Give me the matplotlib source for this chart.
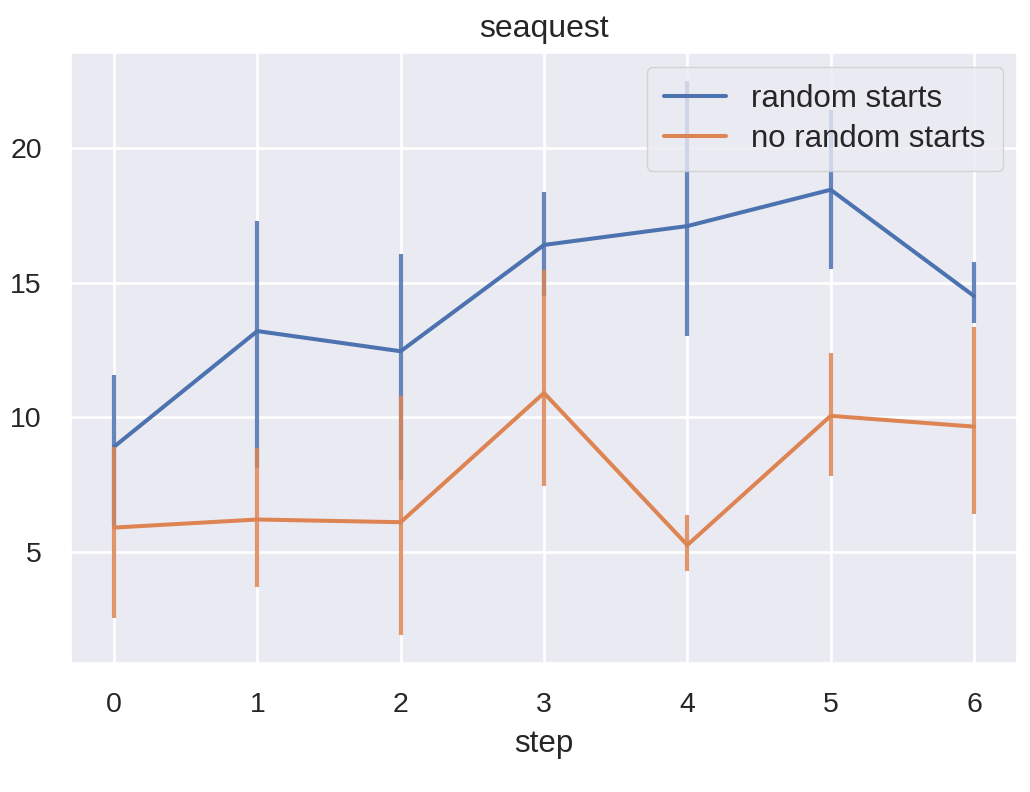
import matplotlib
matplotlib.use("Agg")
import matplotlib.pyplot as plt
import seaborn as sns

# values
steps = [0, 1, 2, 3, 4, 5, 6]
rs_mean = [8.9, 13.2, 12.45, 16.4, 17.1, 18.45, 14.5]
rs_low = [5.95, 8.1, 7.65, 14.5, 13.0, 15.5, 13.5]
rs_high = [11.55, 17.3, 16.05, 18.35, 22.5, 21.4, 15.75]
nrs_mean = [5.9, 6.2, 6.1, 10.9, 5.25, 10.05, 9.65]
nrs_low = [2.55, 3.7, 1.9, 7.45, 4.3, 7.8, 6.4]
nrs_high = [8.9, 8.85, 10.8, 15.45, 6.35, 12.4, 13.35]

sns.set_theme(style="darkgrid")
plt.rcParams['font.family'] = ['Liberation Sans', 'DejaVu Sans']

fig = plt.figure(figsize=(10.3, 7.92), dpi=100)
ax = fig.add_axes([0.0689, 0.1629, 0.9185, 0.7702])

blue, orange = sns.color_palette("deep")[0], sns.color_palette("deep")[1]

ax.plot(steps, rs_mean, color=blue, lw=2.9, label="random starts")
ax.vlines(steps, rs_low, rs_high, color=blue, lw=3.0, alpha=0.85)
ax.plot(steps, nrs_mean, color=orange, lw=2.9, label="no random starts")
ax.vlines(steps, nrs_low, nrs_high, color=orange, lw=3.0, alpha=0.85)

ax.set_xticks(steps)
ax.set_yticks([5, 10, 15, 20])
ax.grid(True, color="white", lw=1.9)
ax.tick_params(labelsize=20.5, length=0, pad=21, labelcolor="#262626")
ax.set_xlabel("step", fontsize=22.5, labelpad=8, color="#262626")
ax.set_title("seaquest", fontsize=23, pad=11.5, color="#262626")

leg = ax.legend(loc="upper right", fontsize=22.5, framealpha=0.8,
                labelspacing=0.32, borderpad=0.55, borderaxespad=0.45)

fig.savefig("out.png", dpi=100)
